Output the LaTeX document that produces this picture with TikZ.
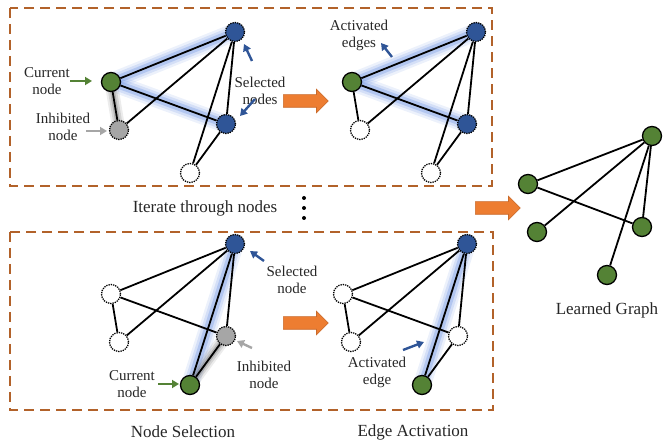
\documentclass[tikz,border=0pt]{standalone}
\usepackage{fontspec}
\setmainfont{Liberation Serif}
\usetikzlibrary{arrows.meta,shapes.arrows,calc,backgrounds}

\definecolor{nodegreen}{RGB}{84,130,53}
\definecolor{nodeblue}{RGB}{47,85,151}
\definecolor{nodegray}{RGB}{166,166,166}
\definecolor{boxbrown}{RGB}{178,98,42}
\definecolor{arroworange}{RGB}{237,125,49}
\definecolor{glowblue}{RGB}{100,140,225}

\begin{document}
\begin{tikzpicture}[x=1pt, y=-1pt,
    % --- vertex styles ---
    vertex/.style={circle, minimum size=19pt, inner sep=0pt, line width=1.3pt, draw=black},
    curnode/.style={vertex, fill=nodegreen},
    selnode/.style={vertex, densely dotted, fill=nodeblue},
    inhnode/.style={vertex, densely dotted, fill=nodegray},
    idlenode/.style={vertex, densely dotted, fill=white},
    % --- text styles ---
    note/.style={font=\fontsize{15}{17}\selectfont, align=center, text=black!85},
    caption/.style={font=\fontsize{17}{20}\selectfont, text=black!85},
    % --- line styles ---
    link/.style={line width=1.8pt},
    panel/.style={draw=boxbrown, line width=1.8pt, dash pattern=on 10pt off 6pt},
    pointer/.style={-{Triangle[length=7pt,width=8pt]}, line width=2.4pt},
    bigarrow/.style={single arrow, draw=arroworange!85!black, line width=0.6pt, fill=arroworange,
                     inner xsep=0pt, inner ysep=6pt, single arrow head extend=5.5pt,
                     minimum height=45pt, anchor=tail},
    glow/.style={line cap=round, shorten <=5pt, shorten >=5pt},
]
\useasboundingbox (0,0) rectangle (665,443);

% === Dashed panels ===
\draw[panel] (10,8) rectangle (492,186);
\draw[panel] (10,232) rectangle (493,410);

% === Panel A: node selection, first pass ===
\node[curnode]  (a1) at (111,82)  {};
\node[selnode]  (a2) at (235,32)  {};
\node[selnode]  (a3) at (226,124) {};
\node[inhnode]  (a4) at (119,130) {};
\node[idlenode] (a5) at (190,173) {};
\foreach \u/\v in {1/2,1/3,1/4,4/2,2/3,2/5,3/5}
  \draw[link] (a\u) -- (a\v);

\node[note] (acurtxt) at (47,81)  {Current\\node};
\node[note] (ainhtxt) at (63,127) {Inhibited\\node};
\node[note] (aseltxt) at (260,91) {Selected\\nodes};
\draw[pointer, nodegreen] ($(a1)+(-41,-1)$) -- ($(a1)+(-19,-1)$);
\draw[pointer, nodegray]  ($(a4)+(-33,1)$)  -- ($(a4)+(-12,1)$);
\draw[pointer, nodeblue]  ($(a2)+(17,29)$)  -- ($(a2)+(9,12)$);
\draw[pointer, nodeblue]  ($(a3)+(29,-25)$) -- ($(a3)+(14,-8)$);

% === Panel B: edge activation, first pass ===
\begin{scope}[shift={(241,0)}]
\node[curnode]  (b1) at (111,82)  {};
\node[selnode]  (b2) at (235,32)  {};
\node[selnode]  (b3) at (226,124) {};
\node[idlenode] (b4) at (119,130) {};
\node[idlenode] (b5) at (190,173) {};
\end{scope}
\foreach \u/\v in {1/2,1/3,1/4,4/2,2/3,2/5,3/5}
  \draw[link] (b\u) -- (b\v);

\node[note] (bacttxt) at (359,35) {Activated\\edges};
\draw[pointer, nodeblue] ($(bacttxt)+(33,22)$) -- ($(bacttxt)+(22,8)$);

% === Panel C: node selection, later pass ===
\begin{scope}[shift={(0,212)}]
\node[idlenode] (c1) at (111,82)  {};
\node[selnode]  (c2) at (235,32)  {};
\node[inhnode]  (c3) at (226,124) {};
\node[idlenode] (c4) at (119,130) {};
\node[curnode]  (c5) at (190,173) {};
\end{scope}
\foreach \u/\v in {1/2,1/3,1/4,4/2,2/3,2/5,3/5}
  \draw[link] (c\u) -- (c\v);

\node[note] (ccurtxt) at (132,384) {Current\\node};
\node[note] (cseltxt) at (292,280) {Selected\\node};
\node[note] (cinhtxt) at (264,375) {Inhibited\\node};
\draw[pointer, nodegreen] ($(c5)+(-32,-1)$) -- ($(c5)+(-11,-1)$);
\draw[pointer, nodeblue]  ($(c2)+(29,17)$)  -- ($(c2)+(15,7)$);
\draw[pointer, nodegray]  ($(c3)+(26,12)$)  -- ($(c3)+(11,5)$);

% === Panel D: edge activation, later pass ===
\begin{scope}[shift={(232,212)}]
\node[idlenode] (d1) at (111,82)  {};
\node[selnode]  (d2) at (235,32)  {};
\node[idlenode] (d3) at (226,124) {};
\node[idlenode] (d4) at (119,130) {};
\node[curnode]  (d5) at (190,173) {};
\end{scope}
\foreach \u/\v in {1/2,1/3,1/4,4/2,2/3,2/5,3/5}
  \draw[link] (d\u) -- (d\v);

\node[note] (dacttxt) at (377,372) {Activated\\edge};
\draw[pointer, nodeblue] ($(dacttxt)+(26,-22)$) -- ($(dacttxt)+(47,-30)$);

% === Highlights behind the edges ===
\begin{scope}[on background layer]
\foreach \w/\o in {18/0.12, 13/0.18, 8/0.3} {
  \draw[glow, glowblue, line width=\w pt, opacity=\o] (a1.center) -- (a2.center);
  \draw[glow, glowblue, line width=\w pt, opacity=\o] (a1.center) -- (a3.center);
  \draw[glow, glowblue, line width=\w pt, opacity=\o] (b1.center) -- (b2.center);
  \draw[glow, glowblue, line width=\w pt, opacity=\o] (b1.center) -- (b3.center);
  \draw[glow, glowblue, line width=\w pt, opacity=\o] (c5.center) -- (c2.center);
  \draw[glow, glowblue, line width=\w pt, opacity=\o] (d5.center) -- (d2.center);
}
\foreach \w/\o in {13/0.12, 9/0.18, 5/0.3} {
  \draw[glow, black!60, line width=\w pt, opacity=\o] (a1.center) -- (a4.center);
  \draw[glow, black!60, line width=\w pt, opacity=\o] (c5.center) -- (c3.center);
}
\end{scope}

% === Learned graph ===
\node[curnode] (g1) at (528,184) {};
\node[curnode] (g2) at (652,136) {};
\node[curnode] (g3) at (642,227) {};
\node[curnode] (g4) at (537,232) {};
\node[curnode] (g5) at (607,275) {};
\foreach \u/\v in {1/2,1/3,4/2,2/3,2/5}
  \draw[link] (g\u) -- (g\v);

% === Block arrows ===
\node[bigarrow] (arrtop) at (283,101) {};
\node[bigarrow] (arrbot) at (283,323) {};
\node[bigarrow] (arrout) at (475,208) {};

% === Captions ===
\node[caption] (itertxt) at (205,208) {Iterate through nodes};
\foreach \y in {198,208,218}
  \fill (304,\y) circle (2pt);
\node[caption] (selcap) at (183,432) {Node Selection};
\node[caption] (actcap) at (413,432) {Edge Activation};
\node[caption] (learncap) at (607,310) {Learned Graph};

\end{tikzpicture}
\end{document}
